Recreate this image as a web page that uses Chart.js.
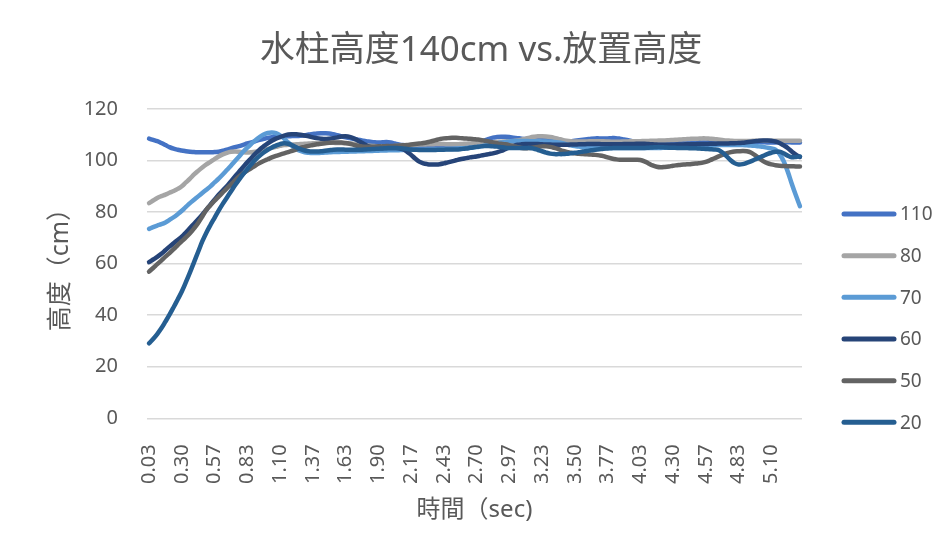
<!DOCTYPE html>
<html>
<head>
<meta charset="utf-8">
<script src="https://cdn.jsdelivr.net/npm/chart.js@4/dist/chart.umd.min.js"></script>
<style>
  html, body { margin: 0; padding: 0; background: #ffffff; }
  #wrap { width: 950px; height: 553px; position: relative; }
</style>
</head>
<body>
<div id="wrap"><canvas id="c" width="950" height="553"></canvas></div>
<script>
// Frame times (s), one sample every 1/30 s
const frameTimes = [
  "0.03","0.07","0.10","0.13","0.17","0.20","0.23","0.27","0.30","0.33","0.37","0.40","0.43","0.47","0.50","0.53","0.57","0.60","0.63","0.67","0.70","0.73","0.77","0.80","0.83","0.87","0.90","0.93","0.97","1.00",
  "1.03","1.07","1.10","1.13","1.17","1.20","1.23","1.27","1.30","1.33","1.37","1.40","1.43","1.47","1.50","1.53","1.57","1.60","1.63","1.67","1.70","1.73","1.77","1.80","1.83","1.87","1.90","1.93","1.97","2.00",
  "2.03","2.07","2.10","2.13","2.17","2.20","2.23","2.27","2.30","2.33","2.37","2.40","2.43","2.47","2.50","2.53","2.57","2.60","2.63","2.67","2.70","2.73","2.77","2.80","2.83","2.87","2.90","2.93","2.97","3.00",
  "3.03","3.07","3.10","3.13","3.17","3.20","3.23","3.27","3.30","3.33","3.37","3.40","3.43","3.47","3.50","3.53","3.57","3.60","3.63","3.67","3.70","3.73","3.77","3.80","3.83","3.87","3.90","3.93","3.97","4.00",
  "4.03","4.07","4.10","4.13","4.17","4.20","4.23","4.27","4.30","4.33","4.37","4.40","4.43","4.47","4.50","4.53","4.57","4.60","4.63","4.67","4.70","4.73","4.77","4.80","4.83","4.87","4.90","4.93","4.97","5.00",
  "5.03","5.07","5.10","5.13","5.17","5.20","5.23","5.27","5.30","5.33"
];

// Water column height (cm) for each placement height
const h110 = [
  108.5,108.0,107.5,106.8,106.0,105.2,104.6,104.2,103.9,103.6,
  103.4,103.3,103.2,103.2,103.2,103.2,103.3,103.4,103.8,104.2,
  104.7,105.2,105.6,106.1,106.6,107.0,107.5,108.0,108.4,108.8,
  109.0,109.2,109.3,109.4,109.4,109.5,109.5,109.6,109.8,110.1,
  110.3,110.5,110.6,110.6,110.5,110.2,109.8,109.4,109.0,108.7,
  108.4,108.1,107.8,107.5,107.3,107.1,107.0,107.1,107.2,107.0,
  106.6,106.2,106.0,105.8,105.6,105.5,105.5,105.4,105.4,105.5,
  105.5,105.5,105.6,105.6,105.7,105.8,105.9,106.0,106.2,106.4,
  106.7,107.2,107.8,108.4,108.9,109.1,109.2,109.2,109.1,108.9,
  108.7,108.5,108.4,108.4,108.5,108.4,108.2,107.9,107.7,107.5,
  107.4,107.4,107.4,107.5,107.7,107.9,108.1,108.3,108.5,108.6,
  108.6,108.6,108.6,108.7,108.7,108.5,108.2,107.9,107.5,107.2,
  107.0,106.9,106.8,106.8,106.8,106.8,106.9,107.0,107.0,107.0,
  107.1,107.1,107.2,107.2,107.1,107.0,107.0,107.1,107.2,107.3,
  107.3,107.2,107.1,107.0,107.0,107.0,107.1,107.2,107.2,107.2,
  107.1,107.0,107.0,107.0,107.1,107.1,107.1,107.0,107.0,107.0
];
const h80 = [
  83.5,84.5,85.5,86.2,86.8,87.5,88.2,89.0,90.0,91.5,
  93.0,94.6,96.0,97.3,98.5,99.5,100.6,101.6,102.4,103.0,
  103.4,103.5,103.4,103.2,103.1,103.2,103.4,103.7,104.1,104.5,
  104.9,105.3,105.7,106.0,106.1,106.2,106.3,106.4,106.5,106.6,
  106.7,106.8,106.8,106.9,106.9,106.9,106.8,106.8,106.7,106.6,
  106.5,106.3,106.1,105.9,105.7,105.6,105.5,105.5,105.5,105.5,
  105.6,105.7,105.8,105.9,106.0,106.1,106.2,106.2,106.3,106.3,
  106.4,106.4,106.4,106.3,106.3,106.3,106.4,106.5,106.6,106.7,
  106.8,106.9,107.0,107.0,107.1,107.2,107.3,107.4,107.5,107.6,
  107.8,108.1,108.5,108.9,109.2,109.4,109.4,109.3,109.1,108.8,
  108.4,108.0,107.7,107.5,107.4,107.4,107.4,107.4,107.5,107.5,
  107.5,107.5,107.4,107.3,107.3,107.3,107.4,107.4,107.5,107.5,
  107.5,107.6,107.6,107.7,107.7,107.8,107.8,107.9,108.0,108.1,
  108.2,108.3,108.4,108.5,108.5,108.6,108.6,108.5,108.4,108.2,
  108.0,107.8,107.7,107.6,107.6,107.6,107.6,107.6,107.7,107.7,
  107.7,107.7,107.7,107.7,107.7,107.7,107.7,107.7,107.7,107.7
];
const h70 = [
  73.5,74.2,74.8,75.3,76.0,77.0,78.0,79.2,80.5,82.0,
  83.5,84.8,86.1,87.4,88.7,90.0,91.5,93.0,94.6,96.3,
  98.0,99.8,101.6,103.4,105.0,106.5,107.9,109.1,110.1,110.7,
  110.9,110.6,109.8,108.5,107.0,105.6,104.5,103.7,103.2,103.0,
  102.9,102.9,103.0,103.1,103.2,103.3,103.3,103.4,103.4,103.5,
  103.5,103.6,103.6,103.7,103.7,103.8,103.8,103.9,103.9,104.0,
  104.0,104.0,104.1,104.1,104.1,104.2,104.2,104.2,104.3,104.3,
  104.3,104.4,104.4,104.5,104.5,104.6,104.7,104.8,104.9,105.0,
  105.2,105.5,105.8,106.1,106.4,106.7,107.0,107.2,107.4,107.5,
  107.6,107.6,107.6,107.5,107.5,107.5,107.4,107.4,107.3,107.2,
  107.0,106.7,106.3,105.9,105.6,105.4,105.2,105.1,105.0,105.0,
  104.9,104.9,104.9,104.9,104.9,104.9,104.9,104.9,104.9,104.9,
  104.9,104.9,104.9,104.9,104.9,104.9,105.0,105.0,105.0,105.1,
  105.2,105.3,105.4,105.5,105.6,105.7,105.8,105.9,106.0,106.0,
  106.0,106.0,106.0,106.0,106.0,106.0,105.9,105.8,105.7,105.5,
  105.3,105.0,104.7,104.2,102.6,99.8,95.8,91.0,86.5,82.3
];
const h60 = [
  60.6,61.6,62.6,63.8,65.2,66.6,67.9,69.2,70.5,72.1,
  73.8,75.5,77.2,79.0,80.9,82.9,84.8,86.7,88.4,90.0,
  91.9,93.8,95.7,97.5,99.3,101.0,102.7,104.2,105.5,106.7,
  107.7,108.5,109.1,109.7,110.1,110.2,110.2,110.0,109.7,109.4,
  109.0,108.7,108.5,108.4,108.5,108.7,109.0,109.3,109.4,109.2,
  108.6,107.8,106.9,106.0,105.3,104.9,104.8,104.8,104.9,104.9,
  104.9,104.8,104.4,103.5,102.2,100.8,99.6,98.9,98.6,98.5,
  98.5,98.6,98.9,99.3,99.7,100.1,100.5,100.8,101.1,101.4,
  101.6,101.9,102.2,102.5,102.8,103.2,103.7,104.4,105.1,105.7,
  106.1,106.3,106.4,106.4,106.4,106.4,106.3,106.2,106.2,106.1,
  106.1,106.1,106.1,106.2,106.2,106.3,106.3,106.4,106.4,106.4,
  106.4,106.3,106.3,106.3,106.3,106.3,106.4,106.4,106.4,106.5,
  106.5,106.5,106.4,106.3,106.2,106.1,106.1,106.1,106.1,106.2,
  106.2,106.3,106.3,106.3,106.4,106.4,106.4,106.5,106.5,106.6,
  106.6,106.6,106.7,106.7,106.8,106.9,107.1,107.3,107.5,107.7,
  107.8,107.8,107.7,107.4,106.8,105.9,104.9,103.5,102.3,101.4
];
const h50 = [
  56.9,58.3,59.8,61.2,62.7,64.1,65.6,67.2,68.7,70.2,
  71.8,73.7,75.8,78.3,80.9,82.7,84.4,86.0,87.6,89.2,
  90.7,92.3,93.8,95.0,96.1,97.1,98.1,99.0,99.8,100.5,
  101.2,101.8,102.3,102.8,103.3,103.8,104.3,104.9,105.3,105.7,
  106.0,106.3,106.5,106.7,106.9,107.0,107.0,107.0,106.8,106.5,
  106.1,105.7,105.5,105.4,105.4,105.4,105.5,105.5,105.6,105.6,
  105.7,105.8,105.9,106.0,106.2,106.4,106.6,106.8,107.1,107.5,
  107.9,108.3,108.6,108.7,108.8,108.8,108.7,108.6,108.5,108.4,
  108.2,108.0,107.7,107.4,107.0,106.7,106.5,106.3,106.0,105.6,
  105.2,104.9,104.8,104.9,105.1,105.3,105.5,105.5,105.3,104.9,
  104.4,103.8,103.3,103.0,102.8,102.6,102.5,102.4,102.3,102.2,
  102.0,101.7,101.2,100.8,100.5,100.3,100.3,100.3,100.3,100.3,
  100.2,99.7,98.9,98.1,97.6,97.4,97.5,97.7,98.0,98.2,
  98.4,98.5,98.6,98.8,98.9,99.1,99.5,100.1,100.8,101.5,
  102.2,102.8,103.2,103.5,103.6,103.7,103.6,103.1,102.1,100.9,
  99.8,99.0,98.5,98.2,98.0,97.9,97.8,97.8,97.7,97.7
];
const h20 = [
  29.1,30.8,32.7,34.9,37.5,40.2,43.1,46.1,49.2,52.8,
  56.6,60.6,64.6,68.6,72.0,75.0,77.8,80.6,83.2,85.6,
  88.0,90.4,92.6,94.7,96.7,98.6,100.3,101.8,103.1,104.2,
  105.1,105.8,106.4,106.7,106.5,105.9,105.1,104.4,103.9,103.6,
  103.5,103.5,103.6,103.8,104.0,104.2,104.3,104.3,104.2,104.2,
  104.2,104.2,104.2,104.3,104.4,104.5,104.6,104.7,104.8,104.9,
  104.9,104.8,104.7,104.5,104.3,104.2,104.1,104.1,104.1,104.1,
  104.1,104.2,104.2,104.3,104.3,104.3,104.4,104.6,104.8,105.1,
  105.3,105.5,105.6,105.6,105.5,105.4,105.2,105.0,104.9,104.9,
  104.9,104.9,104.9,104.9,104.6,104.1,103.6,103.1,102.7,102.5,
  102.5,102.5,102.6,102.8,103.0,103.2,103.5,103.7,104.0,104.2,
  104.4,104.6,104.7,104.8,104.9,104.9,104.9,104.9,104.9,104.9,
  104.9,104.9,105.0,105.1,105.2,105.2,105.1,105.0,105.0,104.9,
  104.9,104.9,104.8,104.8,104.7,104.6,104.5,104.4,104.3,104.1,
  103.2,101.8,100.2,99.0,98.5,98.6,99.1,99.7,100.4,101.1,
  101.8,102.5,103.0,103.4,103.4,102.8,101.9,101.3,101.4,101.6
];

const seriesNames  = ["110", "80", "70", "60", "50", "20"];
const seriesValues = [h110, h80, h70, h60, h50, h20];
const seriesColors = ["#4472C4", "#A5A5A5", "#5B9BD5", "#264478", "#636363", "#255E91"];
const yTicks = { min: 0, max: 120, step: 20 };
const labelEvery = 8;

const titleText = "水柱高度140cm vs.放置高度";
const xTitle = "時間（sec)";
const yTitle = "高度（cm）";

const TEXT = "#595959";
const GRID = "#D9D9D9";
const FONT = "'Noto Sans', 'Noto Sans CJK TC', sans-serif";

// Title and right-hand legend drawn onto the canvas
const decorations = {
  id: "decorations",
  afterDraw(chart) {
    const ctx = chart.ctx;
    ctx.save();
    ctx.fillStyle = TEXT;
    ctx.font = "35px " + FONT;
    ctx.textAlign = "center";
    ctx.textBaseline = "middle";
    ctx.fillText(titleText, 481, 51);

    chart.data.datasets.forEach((ds, i) => {
      const y = 214 + i * 41.67;
      ctx.strokeStyle = ds.borderColor;
      ctx.lineWidth = 5;
      ctx.lineCap = "round";
      ctx.beginPath();
      ctx.moveTo(844, y);
      ctx.lineTo(894, y);
      ctx.stroke();
      ctx.fillStyle = TEXT;
      ctx.font = "19px " + FONT;
      ctx.textAlign = "left";
      ctx.fillText(ds.label, 900, y + 1);
    });
    ctx.restore();
  }
};

new Chart(document.getElementById("c"), {
  type: "line",
  data: {
    labels: frameTimes,
    datasets: seriesNames.map((name, i) => ({
      label: name,
      data: seriesValues[i],
      borderColor: seriesColors[i],
      backgroundColor: seriesColors[i],
      borderWidth: 4.5,
      borderCapStyle: "round",
      borderJoinStyle: "round",
      pointRadius: 0,
      tension: 0.4,
      fill: false,
      order: seriesNames.length - i
    }))
  },
  options: {
    responsive: false,
    animation: false,
    events: [],
    layout: { padding: { top: 109, left: 46, right: 148, bottom: 28 } },
    plugins: {
      legend: { display: false },
      title: { display: false },
      tooltip: { enabled: false }
    },
    scales: {
      x: {
        type: "category",
        offset: true,
        grid: { display: false },
        border: { display: false },
        ticks: {
          autoSkip: false,
          minRotation: 90,
          maxRotation: 90,
          padding: 18,
          color: TEXT,
          font: { family: FONT, size: 20 },
          callback(value, index) {
            return index % labelEvery === 0 ? this.getLabelForValue(value) : null;
          }
        },
        title: {
          display: true,
          text: xTitle,
          color: TEXT,
          font: { family: FONT, size: 24 },
          padding: 0
        },
        afterFit(scale) { scale.height = 553 - 28 - 418.3; }
      },
      y: {
        min: yTicks.min,
        max: yTicks.max,
        grid: { color: GRID, lineWidth: 1.5, drawTicks: false },
        border: { display: false },
        ticks: {
          stepSize: yTicks.step,
          padding: 29,
          color: TEXT,
          font: { family: FONT, size: 20 }
        },
        title: {
          display: true,
          text: yTitle,
          color: TEXT,
          font: { family: FONT, size: 25 },
          padding: 0
        },
        afterFit(scale) { scale.width = 101; }
      }
    }
  },
  plugins: [decorations]
});
</script>
</body>
</html>
